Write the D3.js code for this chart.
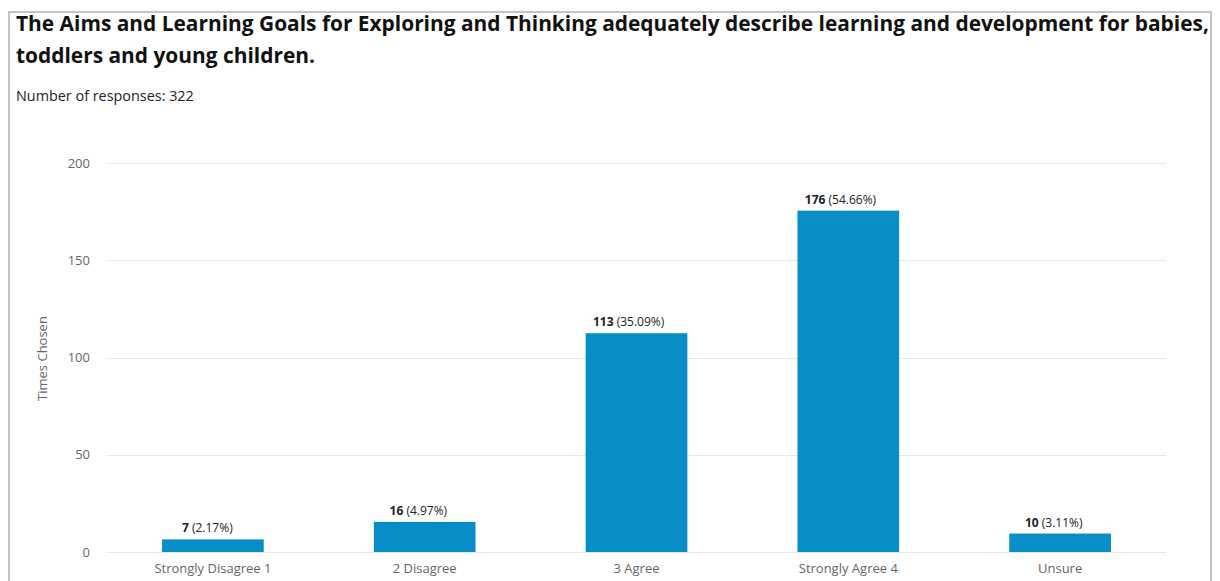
<!DOCTYPE html>
<html>
<head>
<meta charset="utf-8">
<script src="https://cdn.jsdelivr.net/npm/d3@7"></script>
<style>
  html, body { margin: 0; padding: 0; background: #fff; }
  svg { display: block; font-family: "Open Sans", sans-serif; }
</style>
</head>
<body>
<svg id="chart" width="1220" height="581"></svg>
<script>
const titleLines = [
  "The Aims and Learning Goals for Exploring and Thinking adequately describe learning and development for babies,",
  "toddlers and young children."
];
const subtitle = "Number of responses: 322";
const categories = ["Strongly Disagree 1", "2 Disagree", "3 Agree", "Strongly Agree 4", "Unsure"];
const counts = [7, 16, 113, 176, 10];
const percents = ["2.17%", "4.97%", "35.09%", "54.66%", "3.11%"];
const yTicks = [0, 50, 100, 150, 200];
const yTitle = "Times Chosen";

const svg = d3.select("#chart");

svg.append("rect")
  .attr("x", 9).attr("y", 12)
  .attr("width", 1202).attr("height", 580)
  .attr("fill", "none").attr("stroke", "#c4c4c4").attr("stroke-width", 2);

const title = svg.append("text")
  .attr("x", 16).attr("y", 31)
  .attr("font-size", 20.9).attr("font-weight", "bold").attr("fill", "#111");
titleLines.forEach((l, i) => {
  title.append("tspan").attr("x", 16).attr("dy", i === 0 ? 0 : 32).text(l);
});

svg.append("text")
  .attr("x", 16).attr("y", 101)
  .attr("font-size", 14.4).attr("fill", "#222")
  .text(subtitle);

const pLeft = 107, pRight = 1166, pTop = 164, pBottom = 553;
const x = d3.scaleBand().domain(categories).range([pLeft, pRight]).paddingInner(0.52).paddingOuter(0.26);
const y = d3.scaleLinear().domain([0, 200]).range([pBottom, pTop]);

svg.append("g")
  .selectAll("line").data(yTicks).join("line")
  .attr("x1", pLeft).attr("x2", pRight)
  .attr("y1", d => Math.round(y(d)) - 0.5).attr("y2", d => Math.round(y(d)) - 0.5)
  .attr("stroke", "#e6e6e6").attr("stroke-width", 1);

const yAxis = svg.append("g").attr("transform", `translate(${pLeft},-1)`)
  .call(d3.axisLeft(y).tickValues(yTicks).tickSize(0).tickPadding(17));
yAxis.select(".domain").remove();
yAxis.selectAll("text").attr("font-size", 13).attr("fill", "#666").attr("font-family", "Open Sans, sans-serif");

svg.append("text")
  .attr("transform", `translate(47,${(pTop + pBottom) / 2}) rotate(-90)`)
  .attr("text-anchor", "middle")
  .attr("font-size", 13).attr("fill", "#666")
  .text(yTitle);

const data = categories.map((c, i) => ({ c, v: counts[i], p: percents[i] }));
svg.append("g").selectAll("rect").data(data).join("rect")
  .attr("x", d => x(d.c))
  .attr("width", x.bandwidth())
  .attr("y", d => y(d.v))
  .attr("height", d => y(0) - y(d.v) - 1)
  .attr("fill", "#078dc7");

const lbl = svg.append("g").selectAll("text").data(data).join("text")
  .attr("x", d => x(d.c) + x.bandwidth() / 2)
  .attr("y", d => y(d.v) - 7)
  .attr("text-anchor", "middle")
  .attr("font-size", 12).attr("fill", "#222");
lbl.append("tspan").attr("font-weight", "bold").text(d => d.v);
lbl.append("tspan").text(d => " (" + d.p + ")");
lbl.each(function () {
  const w = this.getComputedTextLength();
  d3.select(this).attr("dx", -0.11 * w);
});

const xAxis = svg.append("g").attr("transform", `translate(0,${pBottom - 1})`)
  .call(d3.axisBottom(x).tickSize(0).tickPadding(12));
xAxis.select(".domain").remove();
xAxis.selectAll("text").attr("font-size", 13).attr("fill", "#666").attr("font-family", "Open Sans, sans-serif");
</script>
</body>
</html>
